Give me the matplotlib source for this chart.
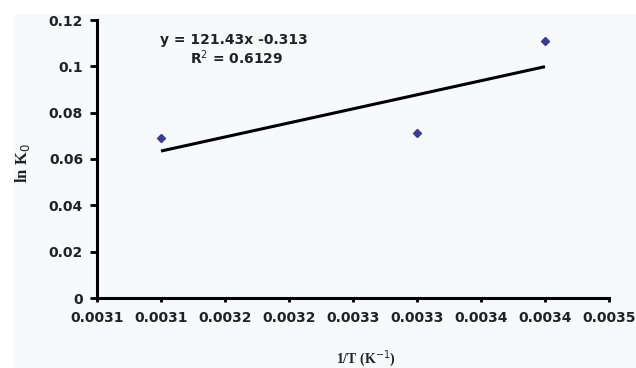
import numpy as np
import matplotlib
matplotlib.use("Agg")
import matplotlib.pyplot as plt
from matplotlib.patches import Rectangle

# data
inv_T = [0.00310, 0.00330, 0.00340]
ln_K0 = [0.0690, 0.0712, 0.1108]
x_ticks = [0.00305, 0.00310, 0.00315, 0.00320, 0.00325, 0.00330, 0.00335, 0.00340, 0.00345]
x_tick_labels = ["0.0031", "0.0031", "0.0032", "0.0032", "0.0033", "0.0033", "0.0034", "0.0034", "0.0035"]
y_ticks = [0, 0.02, 0.04, 0.06, 0.08, 0.10, 0.12]
y_tick_labels = ["0", "0.02", "0.04", "0.06", "0.08", "0.1", "0.12"]
slope, intercept = 121.43, -0.313
eq_text = "y = 121.43x -0.313"
r2_text = "R$^2$ = 0.6129"

W, H = 636, 368
fig = plt.figure(figsize=(W/100, H/100), dpi=100)
bg = "#f8f9fb"
fig.patch.set_facecolor(bg)
fig.patches.append(Rectangle((0, (H-13)/H), 1, 13/H, transform=fig.transFigure, color="white", zorder=-1))
fig.patches.append(Rectangle((0, 0), 13/W, 1, transform=fig.transFigure, color="white", zorder=-1))

left, right, top, bottom = 97, 609, 20, 298
ax = fig.add_axes([left/W, 1-bottom/H, (right-left)/W, (bottom-top)/H])
ax.set_facecolor(bg)
ax.set_xlim(x_ticks[0], x_ticks[-1])
ax.set_ylim(0, 0.12)

for s in ["top", "right"]:
    ax.spines[s].set_visible(False)
for s in ["left", "bottom"]:
    ax.spines[s].set_linewidth(2.2)
    ax.spines[s].set_color("black")

ax.set_xticks(x_ticks)
ax.set_xticklabels(x_tick_labels)
ax.set_yticks(y_ticks)
ax.set_yticklabels(y_tick_labels)
ax.tick_params(axis="y", direction="out", length=5, width=2, pad=5)
ax.tick_params(axis="x", direction="out", length=3, width=2, pad=6)
for lab in ax.get_xticklabels() + ax.get_yticklabels():
    lab.set_fontfamily("DejaVu Sans")
    lab.set_fontweight("bold")
    lab.set_fontsize(10)
    lab.set_color("#222222")

xs = np.array([min(inv_T), max(inv_T)])
ax.plot(xs, slope*xs + intercept, color="black", lw=2.2, zorder=2, solid_capstyle="butt")
ax.plot(inv_T, ln_K0, linestyle="none", marker="D", markersize=4.5, color="#3b3b8f", zorder=3)

fig.text(234/W, 1-40/H, eq_text, ha="center", va="center", fontsize=10,
         fontweight="bold", family="DejaVu Sans", color="#222222")
fig.text(236/W, 1-58/H, r2_text, ha="center", va="center", fontsize=10,
         fontweight="bold", family="DejaVu Sans", color="#222222")

fig.text(22/W, 1-163/H, "ln K$_0$", rotation=90, ha="center", va="center", fontsize=12,
         fontweight="bold", family="Liberation Serif", color="#222222")
fig.text(366/W, 1-359/H, "1/T (K$^{-1}$)", ha="center", va="center", fontsize=10,
         fontweight="bold", family="Liberation Serif", color="#222222")

fig.savefig("out.png", dpi=100, facecolor=fig.get_facecolor())
